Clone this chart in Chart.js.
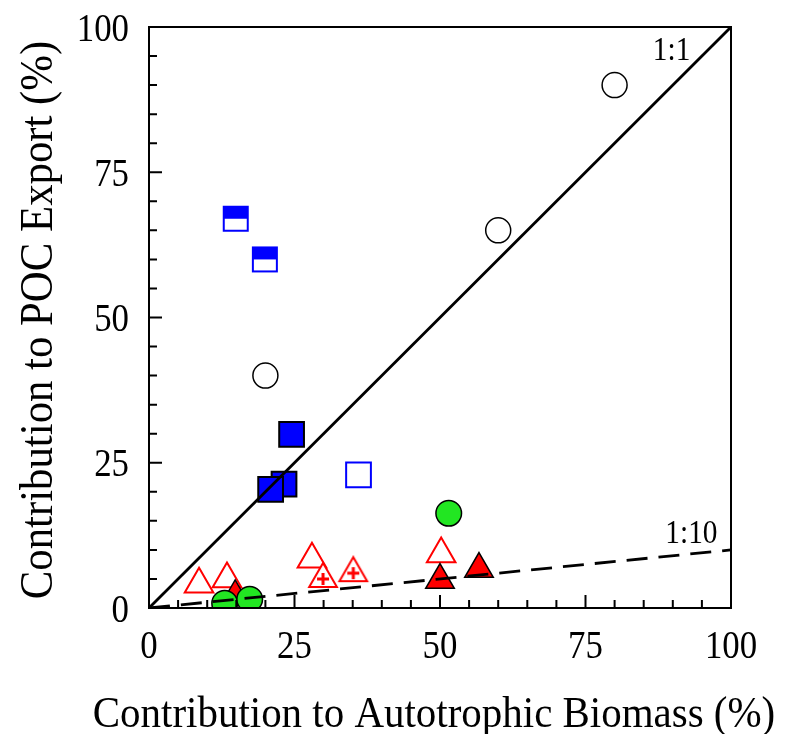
<!DOCTYPE html>
<html>
<head>
<meta charset="utf-8">
<script src="https://cdn.jsdelivr.net/npm/chart.js@4.4.1/dist/chart.umd.min.js"></script>
<style>
  html, body { margin: 0; padding: 0; background: #fff; }
  #wrap { width: 790px; height: 734px; }
</style>
</head>
<body>
<div id="wrap"><canvas id="graf" width="790" height="734"></canvas></div>
<script>
// hodnoty (%)
const openCircleX = [20, 60, 80];
const openCircleY = [40, 65, 90];
const greenX = [13.0, 17.3, 51.5];
const greenY = [0.8, 1.5, 16.3];
const blueFilledX = [24.5, 23.2, 20.9];
const blueFilledY = [29.9, 21.3, 20.4];
const blueOpenX = [36.0];
const blueOpenY = [22.9];
const blueHalfX = [14.9, 19.9];
const blueHalfY = [67.0, 60.0];
const redOpenX = [8.6, 13.4, 28.0, 50.2];
const redOpenY = [4.1, 5.0, 8.4, 9.3];
const redCrossX = [29.9, 35.1];
const redCrossY = [5.0, 6.0];
const redFilledX = [14.8, 50.0, 56.7];
const redFilledY = [2.0, 4.8, 6.7];

const oneToOneX = [0, 100];
const oneToOneY = [0, 100];
const oneToTenX = [0, 100];
const oneToTenY = [0, 10];

const lineLabels = ["1:1", "1:10"];
const lineLabelX = [89.8, 93.2];
const lineLabelY = [96.2, 13.1];

const tickValues = [0, 25, 50, 75, 100];
const tickLabels = ["0", "25", "50", "75", "100"];
const minorStep = 5;

const xTitle = "Contribution to Autotrophic Biomass (%)";
const yTitle = "Contribution to POC Export (%)";

const serif = "'Times New Roman', 'Liberation Serif', serif";

function body(xs, ys) {
    return xs.map(function(x, i) { return { x: x, y: ys[i] }; });
}

// ctverec s horni pulkou vyplnenou
function halfSquare() {
    const c = document.createElement("canvas");
    c.width = 28; c.height = 28;
    const g = c.getContext("2d");
    g.fillStyle = "#ffffff"; g.fillRect(2, 2, 24, 24);
    g.fillStyle = "#0000ff"; g.fillRect(2, 2, 24, 12);
    g.strokeStyle = "#0000ff"; g.lineWidth = 2; g.strokeRect(2, 2, 24, 24);
    return c;
}

// prazdny trojuhelnik s krizkem
function crossTriangle() {
    const c = document.createElement("canvas");
    c.width = 36; c.height = 36;
    const g = c.getContext("2d");
    const cx = 18, cy = 18, r = 16;
    g.beginPath();
    g.moveTo(cx, cy - r);
    g.lineTo(cx + r * Math.sin(Math.PI / 3), cy + r / 2);
    g.lineTo(cx - r * Math.sin(Math.PI / 3), cy + r / 2);
    g.closePath();
    g.fillStyle = "#ffffff"; g.fill();
    g.strokeStyle = "#ff0000"; g.lineWidth = 2; g.stroke();
    g.fillStyle = "#ff0000";
    g.fillRect(cx - 6, cy - 1.5, 12, 3);
    g.fillRect(cx - 1.5, cy - 6, 3, 12);
    return c;
}

// zuzene pismo jako v originale (maxWidth)
function uzkyText(ctx, t, x, y, size, squeeze) {
    ctx.font = size + "px " + serif;
    const w = ctx.measureText(t).width;
    ctx.fillText(t, x, y, w * squeeze);
}

const ramecek = {
    id: "ramecek",
    afterDraw: function(chart) {
        const ctx = chart.ctx;
        const a = chart.chartArea;
        const sx = chart.scales.x, sy = chart.scales.y;
        ctx.save();
        ctx.strokeStyle = "#000"; ctx.lineWidth = 2;
        ctx.strokeRect(a.left, a.top, a.right - a.left, a.bottom - a.top);
        ctx.beginPath();
        for (let v = minorStep; v < 100; v += minorStep) {
            const len = tickValues.indexOf(v) >= 0 ? 13 : 8;
            const px = sx.getPixelForValue(v);
            ctx.moveTo(px, a.bottom); ctx.lineTo(px, a.bottom - len);
            const py = sy.getPixelForValue(v);
            ctx.moveTo(a.left, py); ctx.lineTo(a.left + len, py);
        }
        ctx.stroke();

        ctx.fillStyle = "#000";
        ctx.textBaseline = "alphabetic";
        // popisky osy x a y
        ctx.textAlign = "center";
        tickValues.forEach(function(v, i) {
            uzkyText(ctx, tickLabels[i], sx.getPixelForValue(v), a.bottom + 50, 40, 0.87);
        });
        ctx.textAlign = "right";
        tickValues.forEach(function(v, i) {
            uzkyText(ctx, tickLabels[i], a.left - 20, sy.getPixelForValue(v) + 13.5, 40, 0.87);
        });

        // 1:1 a 1:10
        ctx.textAlign = "center";
        lineLabels.forEach(function(t, i) {
            uzkyText(ctx, t, sx.getPixelForValue(lineLabelX[i]), sy.getPixelForValue(lineLabelY[i]) + 11, 33, 0.89);
        });

        // nazvy os
        uzkyText(ctx, xTitle, 434, 727, 45, 0.91);
        ctx.translate(52, 320);
        ctx.rotate(-Math.PI / 2);
        uzkyText(ctx, yTitle, 0, 0, 46, 0.93);
        ctx.restore();
    }
};

window.addEventListener("DOMContentLoaded", function() {
    const ctx = document.getElementById("graf").getContext("2d");
    new Chart(ctx, {
        type: "scatter",
        data: {
            datasets: [
                { data: body(oneToOneX, oneToOneY), showLine: true, borderColor: "#000", borderWidth: 2.8, pointRadius: 0, order: 0 },
                { data: body(oneToTenX, oneToTenY), showLine: true, borderColor: "#000", borderWidth: 2.8, borderDash: [21, 11], pointRadius: 0, order: 1 },
                { data: body(greenX, greenY), pointStyle: "circle", pointRadius: 12.8, borderColor: "#000", borderWidth: 1.5, backgroundColor: "#22e622", order: 2 },
                { data: body(openCircleX, openCircleY), pointStyle: "circle", pointRadius: 12.5, borderColor: "#000", borderWidth: 1.5, backgroundColor: "#fff", order: 3 },
                { data: body(blueFilledX, blueFilledY), pointStyle: "rect", pointRadius: 17.5, borderColor: "#000", borderWidth: 2, backgroundColor: "#0000ff", order: 4 },
                { data: body(blueOpenX, blueOpenY), pointStyle: "rect", pointRadius: 17.5, borderColor: "#0000ff", borderWidth: 2, backgroundColor: "#fff", order: 5 },
                { data: body(blueHalfX, blueHalfY), pointStyle: halfSquare(), order: 6 },
                { data: body(redFilledX, redFilledY), pointStyle: "triangle", pointRadius: 16.5, borderColor: "#000", borderWidth: 1.5, backgroundColor: "#ff0000", order: 7 },
                { data: body(redCrossX, redCrossY), pointStyle: crossTriangle(), order: 8 },
                { data: body(redOpenX, redOpenY), pointStyle: "triangle", pointRadius: 16.5, borderColor: "#ff0000", borderWidth: 2, backgroundColor: "#fff", order: 9 }
            ]
        },
        options: {
            responsive: false,
            animation: false,
            events: [],
            layout: { padding: { top: 27, right: 59, left: 0, bottom: 0 } },
            plugins: { legend: { display: false }, tooltip: { enabled: false } },
            scales: {
                x: {
                    type: "linear", min: 0, max: 100,
                    afterFit: function(s) { s.height = 126; },
                    afterBuildTicks: function(s) { s.ticks = tickValues.map(function(v) { return { value: v }; }); },
                    grid: { display: false, drawTicks: false },
                    border: { display: true, color: "#000", width: 2 },
                    ticks: { display: false }
                },
                y: {
                    type: "linear", min: 0, max: 100,
                    afterFit: function(s) { s.width = 149; },
                    afterBuildTicks: function(s) { s.ticks = tickValues.map(function(v) { return { value: v }; }); },
                    grid: { display: false, drawTicks: false },
                    border: { display: true, color: "#000", width: 2 },
                    ticks: { display: false }
                }
            }
        },
        plugins: [ramecek]
    });
});
</script>
</body>
</html>
